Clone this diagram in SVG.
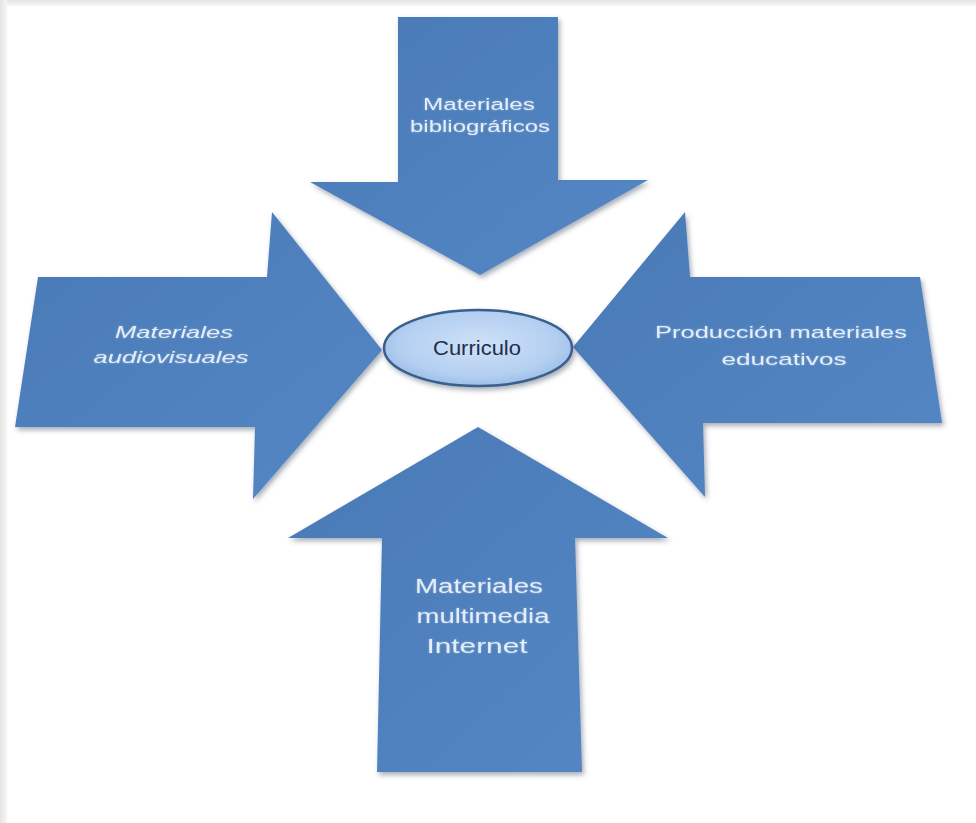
<svg xmlns="http://www.w3.org/2000/svg" width="976" height="823" viewBox="0 0 976 823">
  <defs>
    <linearGradient id="arrowFill" x1="0" y1="0" x2="1" y2="1">
      <stop offset="0" stop-color="#4a7ab6"/>
      <stop offset="1" stop-color="#5487c5"/>
    </linearGradient>
    <radialGradient id="ellFill" cx="0.5" cy="0.45" r="0.6">
      <stop offset="0" stop-color="#cfe1f8"/>
      <stop offset="0.7" stop-color="#b3cff1"/>
      <stop offset="1" stop-color="#94b8e6"/>
    </radialGradient>
    <filter id="shadow" x="-10%" y="-10%" width="125%" height="125%">
      <feDropShadow dx="2" dy="3" stdDeviation="2.5" flood-color="#3a4a60" flood-opacity="0.45"/>
    </filter>
    <filter id="glow" x="-10%" y="-30%" width="120%" height="160%">
      <feGaussianBlur in="SourceAlpha" stdDeviation="1.2" result="b"/>
      <feFlood flood-color="#ffffff" flood-opacity="0.35"/>
      <feComposite in2="b" operator="in" result="g"/>
      <feMerge><feMergeNode in="g"/><feMergeNode in="SourceGraphic"/></feMerge>
    </filter>
    <linearGradient id="edgeTop" x1="0" y1="0" x2="0" y2="1">
      <stop offset="0" stop-color="#e4e4e4"/>
      <stop offset="1" stop-color="#f6f6f6"/>
    </linearGradient>
    <linearGradient id="edgeLeft" x1="0" y1="0" x2="1" y2="0">
      <stop offset="0" stop-color="#e4e4e4"/>
      <stop offset="1" stop-color="#f6f6f6"/>
    </linearGradient>
  </defs>
  <style>
    .arrow { fill: url(#arrowFill); filter: url(#shadow); }
    .lbl { font-family: "Liberation Sans", Arial, sans-serif; fill: #e4edf8; text-anchor: middle; filter: url(#glow); }
    .ital { font-style: italic; }
    .center { font-family: "Liberation Sans", Arial, sans-serif; fill: #1e2f4c; text-anchor: middle; font-size: 21px; }
  </style>
  <rect x="0" y="0" width="976" height="823" fill="#ffffff"/>
  <rect x="0" y="0" width="976" height="6" fill="url(#edgeTop)"/>
  <rect x="0" y="0" width="7" height="823" fill="url(#edgeLeft)"/>

  <g id="connectors"></g>

  <g id="node-bibliograficos">
    <polygon class="arrow" points="398,17 558,17 558,180 648,180 480,275 310,182 398,182"/>
    <text class="lbl" font-size="16" x="479" y="110" textLength="112" lengthAdjust="spacingAndGlyphs">Materiales</text>
    <text class="lbl" font-size="16" x="480" y="132" textLength="140" lengthAdjust="spacingAndGlyphs">bibliográficos</text>
  </g>

  <g id="node-audiovisuales">
    <polygon class="arrow" points="38,277 267,277 272,212 382,350 253,499 255,427 15,427"/>
    <text class="lbl ital" font-size="17" x="174" y="338" textLength="118" lengthAdjust="spacingAndGlyphs">Materiales</text>
    <text class="lbl ital" font-size="17" x="171" y="363" textLength="155" lengthAdjust="spacingAndGlyphs">audiovisuales</text>
  </g>

  <g id="node-produccion">
    <polygon class="arrow" points="685,212 690,277 920,277 942,423 703,423 705,497 573,347"/>
    <text class="lbl" font-size="17" x="781" y="338" textLength="252" lengthAdjust="spacingAndGlyphs">Producción materiales</text>
    <text class="lbl" font-size="17" x="784" y="365" textLength="125" lengthAdjust="spacingAndGlyphs">educativos</text>
  </g>

  <g id="node-multimedia">
    <polygon class="arrow" points="478,427 668,538 575,538 582,772 377,772 382,538 288,538"/>
    <text class="lbl" font-size="20" x="479" y="593" textLength="128" lengthAdjust="spacingAndGlyphs">Materiales</text>
    <text class="lbl" font-size="20" x="483" y="623" textLength="133" lengthAdjust="spacingAndGlyphs">multimedia</text>
    <text class="lbl" font-size="20" x="477" y="653" textLength="101" lengthAdjust="spacingAndGlyphs">Internet</text>
  </g>

  <g id="node-curriculo">
    <ellipse cx="478" cy="348" rx="94" ry="38" fill="url(#ellFill)" stroke="#3b5e8c" stroke-width="2.5" filter="url(#shadow)"/>
    <text class="center" x="477" y="355" textLength="88" lengthAdjust="spacingAndGlyphs">Curriculo</text>
  </g>
</svg>
